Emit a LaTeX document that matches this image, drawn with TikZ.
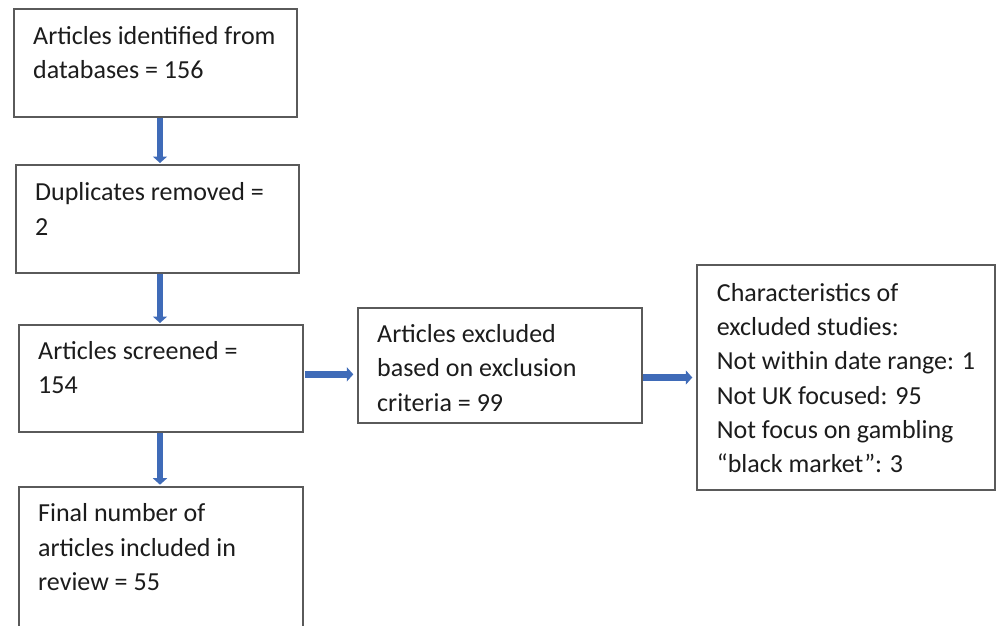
\documentclass[tikz,border=0pt]{standalone}
\usepackage{fontspec}
\setmainfont{Carlito}
\usetikzlibrary{arrows.meta}
\definecolor{boxgray}{HTML}{5A5A5A}
\definecolor{flowblue}{HTML}{3F6BB8}
\definecolor{inkblack}{HTML}{1C1C1C}
\tikzset{
  box/.style={draw=boxgray, line width=1.8pt, fill=white, anchor=north west, inner sep=0pt, outer sep=0pt},
  txt/.style={anchor=base west, align=left, inner sep=0pt, text=inkblack, font=\fontsize{26pt}{34.3pt}\selectfont},
  flow/.style={draw=flowblue, line width=6.5pt, -{Triangle[width=14pt,length=6.5pt]}}
}

\begin{document}
\begin{tikzpicture}[x=1pt,y=-1pt]
\clip (0,0) rectangle (996,625);
\fill[white] (0,0) rectangle (996,625);
\node[box, minimum width=283.3pt, minimum height=107.7pt] (ident) at (14,9) {};
\node[box, minimum width=283pt, minimum height=107.7pt] (dup) at (16,165) {};
\node[box, minimum width=284pt, minimum height=107.3pt] (screen) at (19.3,325) {};
\node[box, minimum width=284pt, minimum height=150pt] (final) at (19.3,486.7) {};
\node[box, minimum width=283.4pt, minimum height=115pt] (excl) at (358.3,308.3) {};
\node[box, minimum width=297.7pt, minimum height=225pt] (crit) at (697.3,265) {};
\node[txt] (identtxt) at (33,78.5) {Articles identified from\\databases = 156};
\node[txt] (duptxt) at (35,235) {Duplicates removed =\\2};
\node[txt] (screentxt) at (38,393.5) {Articles screened =\\154};
\node[txt] (finaltxt) at (38,590.3) {Final number of\\articles included in\\review = 55};
\node[txt] (excltxt) at (377,411) {Articles excluded\\based on exclusion\\criteria = 99};
\node[txt] (crittxt) at (716.7,472.7) {Characteristics of\\excluded studies:\\Not within date range: 1\\Not UK focused: 95\\Not focus on gambling\\``black market'': 3};
\coordinate (spine) at (160,0);
\draw[flow] ([yshift=-1pt]ident.south -| spine) -- ([yshift=2pt]dup.north -| spine);
\draw[flow] ([yshift=-1pt]dup.south -| spine) -- ([yshift=2pt]screen.north -| spine);
\draw[flow] ([yshift=-1pt]screen.south -| spine) -- ([yshift=2pt]final.north -| spine);
\coordinate (cross) at ([yshift=4.3pt]screen.east);
\draw[flow] ([xshift=1.5pt]cross) -- ([xshift=-5pt]cross -| excl.west);
\draw[flow] ([xshift=1.5pt]excl.east |- crit.west) -- ([xshift=-5pt]crit.west);
\end{tikzpicture}
\end{document}
